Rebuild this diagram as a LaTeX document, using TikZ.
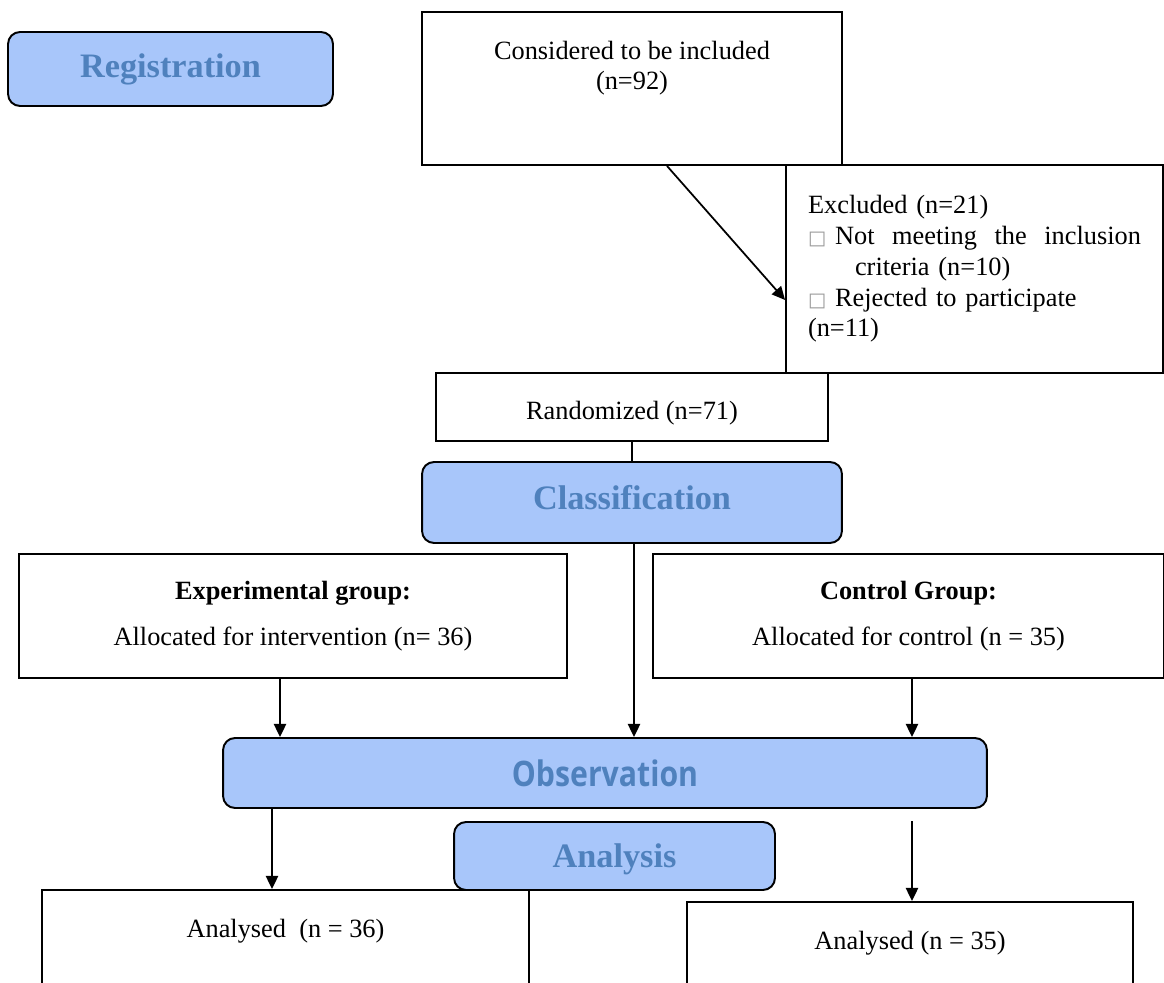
\documentclass[tikz,border=0pt]{standalone}
\usepackage{fontspec}
\setmainfont{Liberation Serif}
\newfontfamily\obsfont[FakeStretch=0.86]{Open Sans}
\newfontfamily\symfont{DejaVu Sans}
\usetikzlibrary{arrows.meta}
\definecolor{stagefill}{RGB}{168,198,250}
\definecolor{stagetext}{RGB}{79,129,189}
\newcommand{\gbox}{{\symfont\fontsize{11}{11}\selectfont\color{black!40}□}}

\begin{document}
\begin{tikzpicture}[x=0.02cm,y=-0.02cm,
  font=\fontsize{15}{17.5}\selectfont,
  >={Triangle[length=7.5pt,width=7pt]},
  line width=1pt,
  box/.style={draw,line width=1.1pt,inner sep=0pt,align=center},
  stage/.style={draw,line width=1.1pt,fill=stagefill,rounded corners=0.24cm,text=stagetext,
    font=\fontsize{19.5}{22}\selectfont\bfseries}]
\useasboundingbox (0,0) rectangle (1164,983);
\clip (0,0) rectangle (1164,983);

\node[stage,minimum width=6.5cm,minimum height=1.48cm] (reg) at (170.5,69) {Registration};
\node[box,minimum width=8.4cm,minimum height=3.06cm,
  label={[anchor=north,align=center,yshift=-0.46cm]north:Considered to be included\\(n=92)}] (cons) at (632,88.5) {};
\node[box,minimum width=7.54cm,minimum height=4.16cm,align=left,text width=6.66cm,inner xsep=0.44cm] (excl) at (974.5,269)
  {Excluded (n=21)\\
   \makebox[6.66cm][l]{\gbox{} Not\hfill meeting\hfill the\hfill inclusion}\\
   \hspace*{0.94cm}criteria (n=10)\\
   \gbox{} Rejected to participate\\
   (n=11)};
\node[box,minimum width=7.84cm,minimum height=1.36cm,
  label={[yshift=-0.12cm]center:Randomized (n=71)}] (rand) at (632,407) {};
\node[stage,minimum width=8.4cm,minimum height=1.62cm,text depth=5.6pt] (cls) at (632,502.5) {Classification};
\node[box,minimum width=10.96cm,minimum height=2.48cm] (exp) at (293,616)
  {\textbf{Experimental group:}\\[8.5pt]Allocated for intervention (n= 36)};
\node[box,minimum width=10.22cm,minimum height=2.48cm] (ctl) at (908.5,616)
  {\textbf{Control Group:}\\[8.5pt]Allocated for control (n = 35)};
\node[stage,minimum width=15.28cm,minimum height=1.4cm,font=\obsfont\fontsize{20}{22}\selectfont\bfseries] (obs) at (605,773) {Observation};
\node[stage,minimum width=6.42cm,minimum height=1.36cm,text depth=0pt] (ana) at (614.5,856) {Analysis};
\node[box,minimum width=9.74cm,minimum height=2.6cm,
  label={[anchor=north,yshift=-0.46cm]north:Analysed\ \ (n = 36)}] (res1) at (285.5,955) {};
\node[box,minimum width=8.92cm,minimum height=2.6cm,
  label={[anchor=north,yshift=-0.46cm]north:Analysed (n = 35)}] (res2) at (910,967) {};

% connectors
\draw[->] ([xshift=0.7cm]cons.south) -- ([yshift=-0.62cm]excl.west);
\draw (rand.south) -- (cls.north);
\draw[->] ([xshift=0.04cm]cls.south) -- ([xshift=0.04cm]cls.south |- obs.north);
\draw[->] ([xshift=-0.26cm]exp.south) -- ([xshift=-0.26cm]exp.south |- obs.north);
\draw[->] ([xshift=0.07cm]ctl.south) -- ([xshift=0.07cm]ctl.south |- obs.north);
\draw[->] ([xshift=-0.27cm]res1.north |- obs.south) -- ([xshift=-0.27cm]res1.north);
\draw[->] ([xshift=0.04cm]res2.north |- ana.north) -- ([xshift=0.04cm]res2.north);
\end{tikzpicture}
\end{document}
